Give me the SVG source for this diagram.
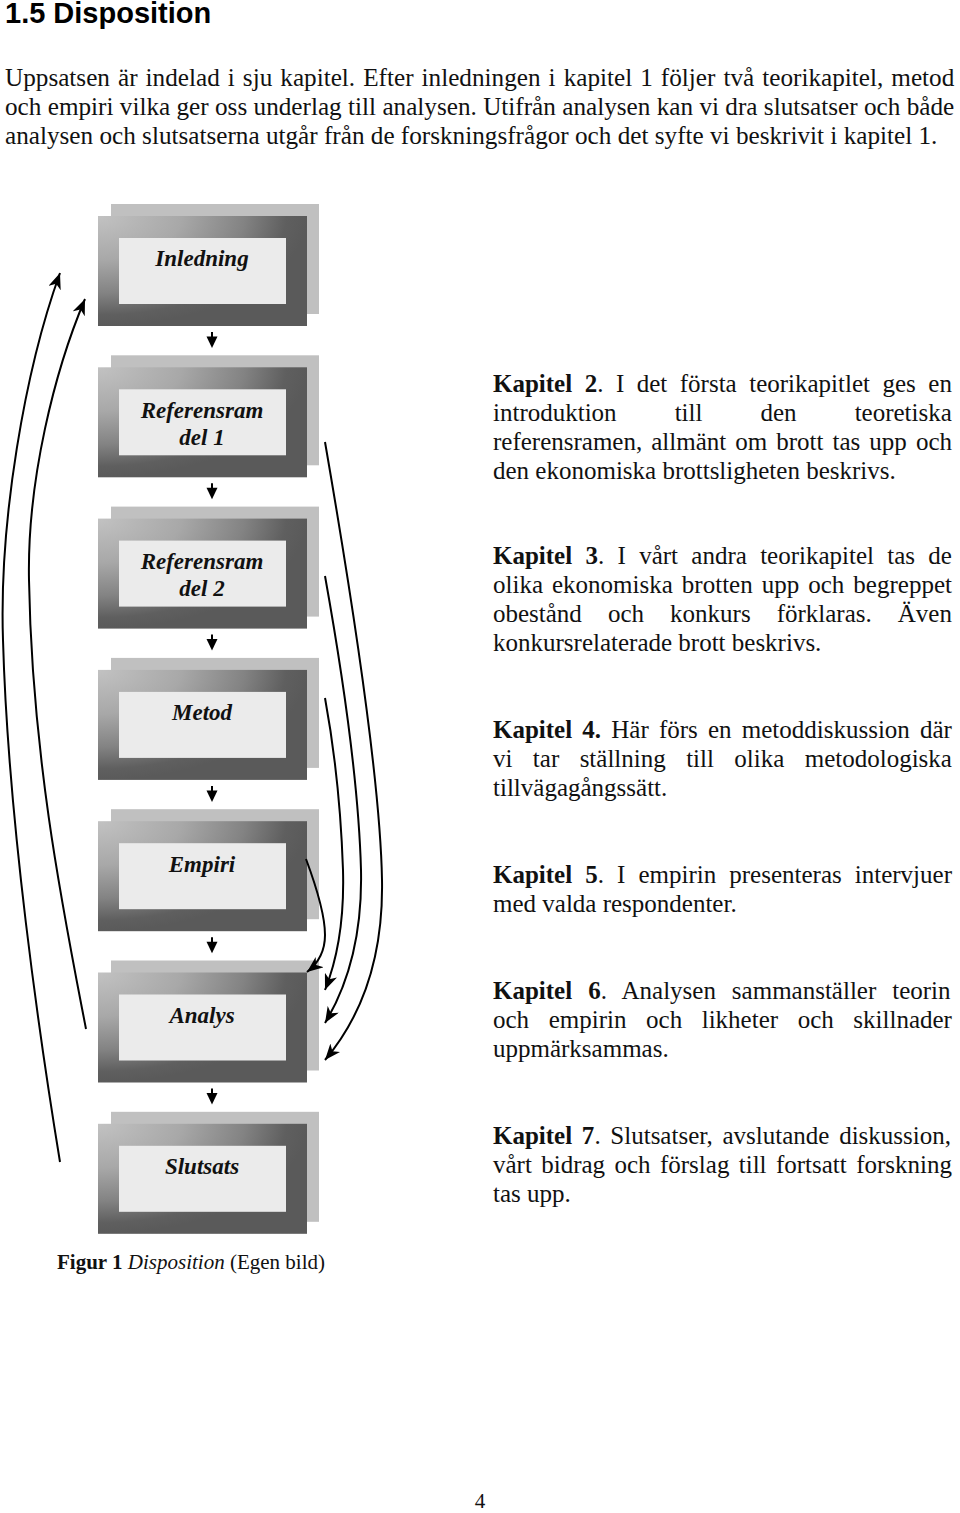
<svg xmlns="http://www.w3.org/2000/svg" width="960" height="1513" viewBox="0 0 960 1513">
<style>
  .bg{fill:#ffffff}
  .back{fill:#c0c0c0}
  .front{fill:url(#frame)}
  .inner{fill:#ebebeb}
  .lbl{font-family:"Liberation Serif","Times New Roman",serif;font-size:23px;font-weight:bold;font-style:italic;fill:#111;text-anchor:middle}
  .h{font-family:"Liberation Sans",Arial,sans-serif;font-size:29px;font-weight:bold;fill:#000}
  .p{font-family:"Liberation Serif","Times New Roman",serif;font-size:25.2px;fill:#111}
  .t{font-family:"Liberation Serif","Times New Roman",serif;font-size:25px;fill:#111}
  .cap{font-family:"Liberation Serif","Times New Roman",serif;font-size:21px;fill:#111}
  .b{font-weight:bold}
  .i{font-style:italic}
  .con{fill:none;stroke:#000;stroke-width:2}
  .down line{stroke:#000;stroke-width:2}
  .down polygon{fill:#000}
</style>
<defs>
  <radialGradient id="frame" cx="0" cy="0" r="1" fx="0" fy="0">
    <stop offset="0" stop-color="#c2c2c2"/>
    <stop offset="0.4" stop-color="#a8a8a8"/>
    <stop offset="0.7" stop-color="#838383"/>
    <stop offset="0.9" stop-color="#5f5f5f"/>
    <stop offset="1" stop-color="#5a5a5a"/>
  </radialGradient>
  <marker id="ah" markerUnits="userSpaceOnUse" viewBox="0 0 16 13" markerWidth="16" markerHeight="13" refX="16" refY="6.5" orient="auto">
    <path d="M0,0 L16,6.5 L0,13 L4.5,6.5 z" fill="#000"/>
  </marker>
  <g id="down" class="down">
    <line x1="212" y1="0" x2="212" y2="8"/>
    <polygon points="206.5,4.5 217.5,4.5 212,16"/>
  </g>
</defs>
<rect class="bg" x="0" y="0" width="960" height="1513"/>

<text class="h" x="5" y="23">1.5 Disposition</text>

<g id="intro">
  <text class="p" x="5" y="86" style="word-spacing:1.76px">Uppsatsen är indelad i sju kapitel. Efter inledningen i kapitel 1 följer två teorikapitel, metod</text>
  <text class="p" x="5" y="115" style="word-spacing:0.05px">och empiri vilka ger oss underlag till analysen. Utifrån analysen kan vi dra slutsatser och både</text>
  <text class="p" x="5" y="144">analysen och slutsatserna utgår från de forskningsfrågor och det syfte vi beskrivit i kapitel 1.</text>
</g>

<g id="node-inledning">
  <rect class="back" x="111" y="204" width="208" height="110"/>
  <rect class="front" x="98" y="216" width="209" height="110"/>
  <rect class="inner" x="119" y="238" width="167" height="66"/>
  <text class="lbl" x="202" y="266">Inledning</text>
</g>
<g id="node-ref1">
  <rect class="back" x="111" y="355.3" width="208" height="110"/>
  <rect class="front" x="98" y="367.3" width="209" height="110"/>
  <rect class="inner" x="119" y="389.3" width="167" height="66"/>
  <text class="lbl" x="202" y="417.5">Referensram</text>
  <text class="lbl" x="202" y="444.5">del 1</text>
</g>
<g id="node-ref2">
  <rect class="back" x="111" y="506.6" width="208" height="110"/>
  <rect class="front" x="98" y="518.6" width="209" height="110"/>
  <rect class="inner" x="119" y="540.6" width="167" height="66"/>
  <text class="lbl" x="202" y="569">Referensram</text>
  <text class="lbl" x="202" y="596">del 2</text>
</g>
<g id="node-metod">
  <rect class="back" x="111" y="657.9" width="208" height="110"/>
  <rect class="front" x="98" y="669.9" width="209" height="110"/>
  <rect class="inner" x="119" y="691.9" width="167" height="66"/>
  <text class="lbl" x="202" y="720">Metod</text>
</g>
<g id="node-empiri">
  <rect class="back" x="111" y="809.2" width="208" height="110"/>
  <rect class="front" x="98" y="821.2" width="209" height="110"/>
  <rect class="inner" x="119" y="843.2" width="167" height="66"/>
  <text class="lbl" x="202" y="871.5">Empiri</text>
</g>
<g id="node-analys">
  <rect class="back" x="111" y="960.5" width="208" height="110"/>
  <rect class="front" x="98" y="972.5" width="209" height="110"/>
  <rect class="inner" x="119" y="994.5" width="167" height="66"/>
  <text class="lbl" x="202" y="1023">Analys</text>
</g>
<g id="node-slutsats">
  <rect class="back" x="111" y="1111.8" width="208" height="110"/>
  <rect class="front" x="98" y="1123.8" width="209" height="110"/>
  <rect class="inner" x="119" y="1145.8" width="167" height="66"/>
  <text class="lbl" x="202" y="1174">Slutsats</text>
</g>

<g id="connectors">
  <use href="#down" y="332"/>
  <use href="#down" y="483.3"/>
  <use href="#down" y="634.6"/>
  <use href="#down" y="785.9"/>
  <use href="#down" y="937.2"/>
  <use href="#down" y="1088.5"/>
  <path class="con" d="M60,1162 C40,1040 8,820 3,640 C-1,520 25,370 60,273" marker-end="url(#ah)"/>
  <path class="con" d="M86,1029 C65,920 32,760 29,580 C27,480 55,370 85,299" marker-end="url(#ah)"/>
  <path class="con" d="M325,442 Q380,760 382,880 Q384,990 325,1060" marker-end="url(#ah)"/>
  <path class="con" d="M325,576 Q358,760 361,870 Q363,960 325,1023" marker-end="url(#ah)"/>
  <path class="con" d="M325,698 Q340,780 343,870 Q345,940 325,990" marker-end="url(#ah)"/>
  <path class="con" d="M306,859 Q325,910 325,935 Q325,958 307,972" marker-end="url(#ah)"/>
</g>

<g id="kap2">
  <text class="t" x="493" y="392" style="word-spacing:6.25px"><tspan class="b">Kapitel 2</tspan>. I det första teorikapitlet ges en</text>
  <text class="t" x="493" y="421" style="word-spacing:51.8px">introduktion till den teoretiska</text>
  <text class="t" x="493" y="450" style="word-spacing:2.8px">referensramen, allmänt om brott tas upp och</text>
  <text class="t" x="493" y="479">den ekonomiska brottsligheten beskrivs.</text>
</g>
<g id="kap3">
  <text class="t" x="493" y="564" style="word-spacing:7.05px"><tspan class="b">Kapitel 3</tspan>. I vårt andra teorikapitel tas de</text>
  <text class="t" x="493" y="593" style="word-spacing:2.78px">olika ekonomiska brotten upp och begreppet</text>
  <text class="t" x="493" y="622" style="word-spacing:19.8px">obestånd och konkurs förklaras. Även</text>
  <text class="t" x="493" y="651">konkursrelaterade brott beskrivs.</text>
</g>
<g id="kap4">
  <text class="t" x="493" y="738" style="word-spacing:3.93px"><tspan class="b">Kapitel 4.</tspan> Här förs en metoddiskussion där</text>
  <text class="t" x="493" y="767" style="word-spacing:14.16px">vi tar ställning till olika metodologiska</text>
  <text class="t" x="493" y="796">tillvägagångssätt.</text>
</g>
<g id="kap5">
  <text class="t" x="493" y="883" style="word-spacing:6.82px"><tspan class="b">Kapitel 5</tspan>. I empirin presenteras intervjuer</text>
  <text class="t" x="493" y="912">med valda respondenter.</text>
</g>
<g id="kap6">
  <text class="t" x="493" y="999" style="word-spacing:9.72px"><tspan class="b">Kapitel 6</tspan>. Analysen sammanställer teorin</text>
  <text class="t" x="493" y="1028" style="word-spacing:13.34px">och empirin och likheter och skillnader</text>
  <text class="t" x="493" y="1057">uppmärksammas.</text>
</g>
<g id="kap7">
  <text class="t" x="493" y="1144" style="word-spacing:3.46px"><tspan class="b">Kapitel 7</tspan>. Slutsatser, avslutande diskussion,</text>
  <text class="t" x="493" y="1173" style="word-spacing:3.13px">vårt bidrag och förslag till fortsatt forskning</text>
  <text class="t" x="493" y="1202">tas upp.</text>
</g>

<text class="cap" x="57" y="1269"><tspan class="b">Figur 1</tspan> <tspan class="i">Disposition</tspan> (Egen bild)</text>
<text class="cap" x="480" y="1508" text-anchor="middle">4</text>
</svg>
